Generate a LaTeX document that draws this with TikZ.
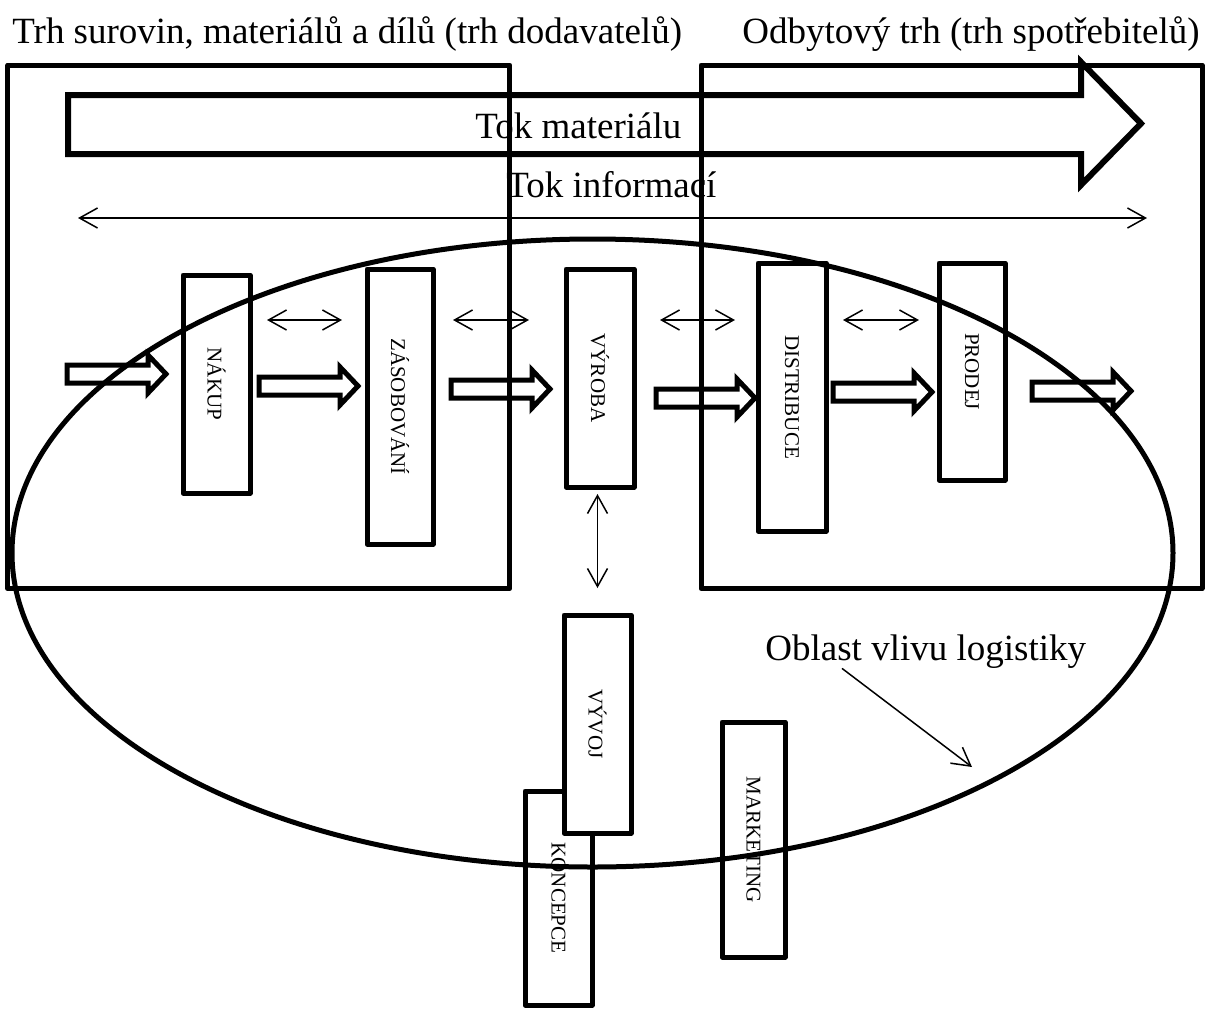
\documentclass[tikz,border=0pt]{standalone}
\usepackage{fontspec}
\usepackage{graphicx}
\setmainfont{Liberation Serif}
\usetikzlibrary{arrows.meta,calc,shapes.geometric}
\begin{document}
\begin{tikzpicture}[x=0.5pt,y=-0.5pt,
  frame/.style={draw,line width=2.5pt,line join=round,inner sep=0pt,outer sep=0pt},
  stage/.style={draw,line width=2.5pt,line join=round,inner sep=0pt,outer sep=0pt,
    font=\fontsize{10.5}{12}\selectfont},
  heading/.style={inner sep=0pt,anchor=base west,font=\fontsize{18.5}{22}\selectfont},
  link/.style={line width=0.75pt,
    {Straight Barb[length=9pt,width=10pt]}-{Straight Barb[length=9pt,width=10pt]}},
  pointer/.style={line width=0.75pt,-{Straight Barb[length=9pt,width=10pt]}},
  flowline/.style={line width=2.5pt,line join=miter},
  flow/.pic={\draw[flowline] (0,-9) -- (81,-9) -- (81,-19) -- (99,0) -- (81,19) -- (81,9) -- (0,9) -- cycle;}
]
\useasboundingbox (0,0) rectangle (1206,1008);

% market frames
\node[frame,minimum width=251pt,minimum height=261.75pt] (supply) at (258.85,326.75) {};
\node[frame,minimum width=250.5pt,minimum height=261.75pt] (sales) at (951.5,326.75) {};

% headings
\node[heading] (supplytitle) at (12,43) {Trh surovin, materiálů a dílů (trh dodavatelů)};
\node[heading] (salestitle) at (742,43) {Odbytový trh (trh spotřebitelů)};

% material flow block arrow
\draw[line width=3pt,line join=miter] (68,95) -- (1081,95) -- (1081,62) -- (1141,123.5)
  -- (1081,185) -- (1081,154) -- (68,154) -- cycle;
\node[heading] (material) at (475,138) {Tok materiálu};

% information flow
\node[heading] (info) at (506,197) {Tok informací};
\coordinate (infoL) at (78,218);
\coordinate (infoR) at (1147,218);
\draw[link] (infoL) -- (infoR);

% process stages
\node[stage,minimum width=33.5pt,minimum height=109pt] (nakup) at (216.5,384) {\rotatebox{-90}{NÁKUP}};
\node[stage,minimum width=33pt,minimum height=137.5pt] (zas) at (400,406.5) {\rotatebox{-90}{ZÁSOBOVÁNÍ}};
\node[stage,minimum width=34pt,minimum height=109pt] (vyroba) at (600,378) {\rotatebox{-90}{VÝROBA}};
\node[stage,minimum width=34pt,minimum height=134pt] (distribuce) at (792,397) {\rotatebox{-90}{DISTRIBUCE}};
\node[stage,minimum width=33pt,minimum height=108.5pt] (prodej) at (972,371.5) {\rotatebox{-90}{PRODEJ}};
\node[stage,minimum width=33.5pt,minimum height=107pt] (koncepce) at (558.5,898) {\rotatebox{-90}{KONCEPCE}};
\node[stage,fill=white,minimum width=33.5pt,minimum height=109pt] (vyvoj) at (597.5,724) {\rotatebox{-90}{VÝVOJ}};
\node[stage,minimum width=31.5pt,minimum height=117.5pt] (marketing) at (753.5,839.5) {\rotatebox{-90}{MARKETING}};

% material movement between stages
\pic at (67,374) {flow};
\pic at (259,386) {flow};
\pic at (451,389) {flow};
\pic at (656,398) {flow};
\pic at (833,392) {flow};
\pic at (1032,391) {flow};

% information exchange between stages
\coordinate (row) at (0,320);
\draw[link] ($(nakup.east |- row)+(17,0)$) -- ($(zas.west |- row)+(-25,0)$);
\draw[link] ($(zas.east |- row)+(20,0)$) -- ($(vyroba.west |- row)+(-37,0)$);
\draw[link] ($(vyroba.east |- row)+(26,0)$) -- ($(distribuce.west |- row)+(-23,0)$);
\draw[link] ($(distribuce.east |- row)+(17,0)$) -- ($(prodej.west |- row)+(-20,0)$);
\draw[link] ($(vyroba.south -| vyvoj)+(0,7)$) -- ($(vyvoj.north)+(0,-27)$);

% area of logistics influence
\node[draw,ellipse,line width=2.5pt,inner sep=0pt,outer sep=0pt,
  minimum width=580.5pt,minimum height=314pt] (logistics) at (592.5,553) {};
\node[heading] (oblast) at (765,660) {Oblast vlivu logistiky};
\coordinate (oblasttip) at (972,767);
\draw[pointer] ([xshift=38.5pt]oblast.south west) -- (oblasttip);
\end{tikzpicture}
\end{document}
